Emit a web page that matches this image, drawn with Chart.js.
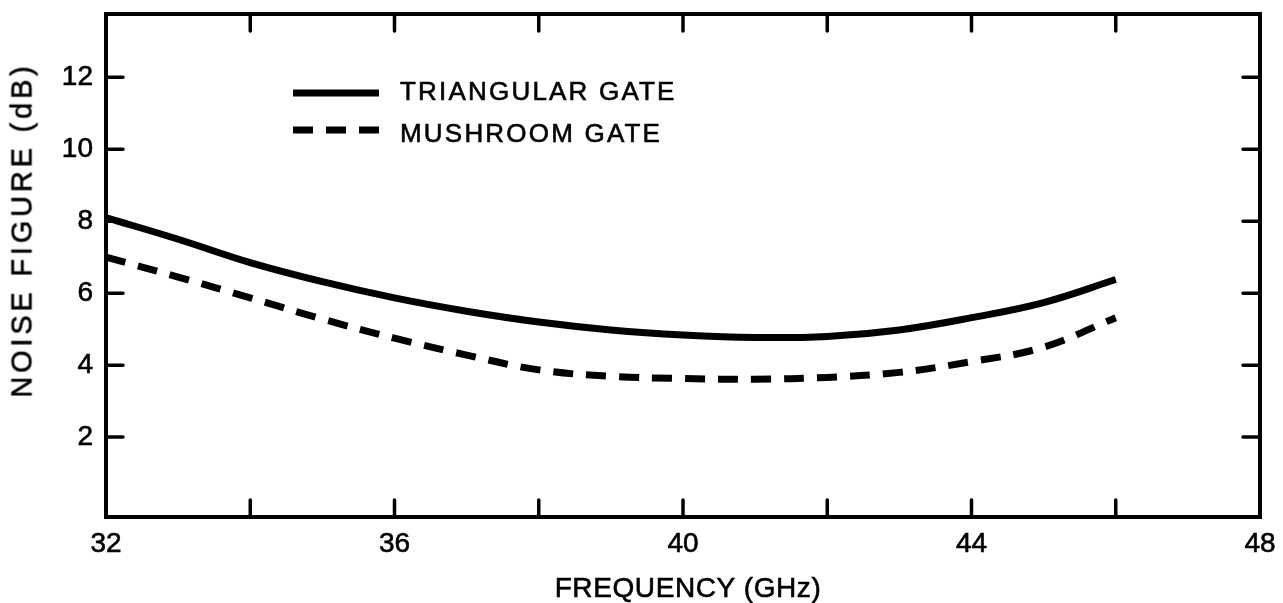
<!DOCTYPE html>
<html><head><meta charset="utf-8">
<script src="https://cdn.jsdelivr.net/npm/chart.js@4.4.0/dist/chart.umd.min.js"></script>
<style>
html,body{margin:0;padding:0;background:#fff;}
#wrap{position:relative;width:1283px;height:603px;overflow:hidden;font-family:"Liberation Sans",Arial,Helvetica,sans-serif;color:#000;}
#c{position:absolute;left:0;top:0;}
.t{position:absolute;white-space:nowrap;line-height:1;-webkit-text-stroke:0.6px #000;}
#ytitle{left:22px;top:230px;font-size:29px;letter-spacing:3.8px;transform:translate(-50%,-50%) rotate(-90deg);}
#xtitle{left:688px;top:588px;font-size:28px;letter-spacing:0.6px;transform:translate(-50%,-50%);}
.lg{position:absolute;font-size:26px;letter-spacing:2.2px;line-height:1;white-space:nowrap;-webkit-text-stroke:0.6px #000;}
.sw{position:absolute;}
</style></head><body>
<div id="wrap">
<canvas id="c" width="1283" height="603"></canvas>
<div id="ytitle" class="t"></div>
<div id="xtitle" class="t"></div>
<svg class="sw" style="left:293px;top:86px" width="86" height="14"><line x1="0" y1="7" x2="86" y2="7" stroke="#000" stroke-width="7"/></svg>
<svg class="sw" style="left:293px;top:123px" width="86" height="14"><line x1="0" y1="7" x2="86" y2="7" stroke="#000" stroke-width="7" stroke-dasharray="20 13"/></svg>
<div id="lg1" class="lg" style="left:400px;top:78px"></div>
<div id="lg2" class="lg" style="left:400px;top:120px"></div>
</div>
<script>
// ---- data ----
const frequency = [32, 33, 34, 35, 36, 37, 38, 39, 40, 41, 42, 43, 44, 45, 46];
const triangularGate = [8.1, 7.5, 6.85, 6.32, 5.87, 5.5, 5.2, 4.98, 4.84, 4.77, 4.8, 4.98, 5.32, 5.74, 6.38];
const mushroomGate = [7.0, 6.45, 5.87, 5.28, 4.75, 4.28, 3.87, 3.69, 3.63, 3.61, 3.66, 3.8, 4.1, 4.5, 5.32];
const seriesNames = ['TRIANGULAR GATE', 'MUSHROOM GATE'];
const xTickValues = [32, 34, 36, 38, 40, 42, 44, 46, 48];
const xTickLabels = ['32', '', '36', '', '40', '', '44', '', '48'];
const yTickValues = [2, 4, 6, 8, 10, 12];
const yTickLabels = ['2', '4', '6', '8', '10', '12'];
const xTitle = 'FREQUENCY (GHz)';
const yTitle = 'NOISE FIGURE (dB)';

document.getElementById('xtitle').textContent = xTitle;
document.getElementById('ytitle').textContent = yTitle;
document.getElementById('lg1').textContent = seriesNames[0];
document.getElementById('lg2').textContent = seriesNames[1];

const FONT = "'Liberation Sans', Arial, Helvetica, sans-serif";
const TICK_LEN = 17;

const frameAndTicks = {
  id: 'frameAndTicks',
  afterDraw(chart) {
    const ctx = chart.ctx;
    const a = chart.chartArea;
    const xs = chart.scales.x, ys = chart.scales.y;
    ctx.save();
    ctx.strokeStyle = '#000';
    ctx.lineWidth = 4;
    ctx.lineJoin = 'miter';
    ctx.strokeRect(a.left, a.top, a.right - a.left, a.bottom - a.top);
    ctx.lineWidth = 3.5;
    ctx.lineCap = 'round';
    ctx.beginPath();
    xTickValues.forEach(v => {
      if (v <= xs.min || v >= xs.max) return;
      const px = xs.getPixelForValue(v);
      ctx.moveTo(px, a.bottom); ctx.lineTo(px, a.bottom - TICK_LEN);
      ctx.moveTo(px, a.top); ctx.lineTo(px, a.top + TICK_LEN);
    });
    yTickValues.forEach(v => {
      const py = ys.getPixelForValue(v);
      ctx.moveTo(a.left, py); ctx.lineTo(a.left + TICK_LEN, py);
      ctx.moveTo(a.right, py); ctx.lineTo(a.right - TICK_LEN, py);
    });
    ctx.stroke();
    ctx.restore();
  }
};

new Chart(document.getElementById('c'), {
  type: 'line',
  data: {
    datasets: [
      {
        label: seriesNames[0],
        data: frequency.map((f, i) => ({ x: f, y: triangularGate[i] })),
        borderColor: '#000', borderWidth: 7, pointRadius: 0, tension: 0.4, fill: false
      },
      {
        label: seriesNames[1],
        data: frequency.map((f, i) => ({ x: f, y: mushroomGate[i] })),
        borderColor: '#000', borderWidth: 7, borderDash: [20, 13], pointRadius: 0, tension: 0.4, fill: false
      }
    ]
  },
  options: {
    responsive: false,
    animation: false,
    layout: { padding: { left: 0, top: 14, right: 23, bottom: 0 } },
    plugins: { legend: { display: false }, tooltip: { enabled: false } },
    scales: {
      x: {
        type: 'linear', min: 32, max: 48,
        afterBuildTicks: s => { s.ticks = xTickValues.map(v => ({ value: v })); },
        afterFit: s => { s.height = 86; s.paddingLeft = 0; s.paddingRight = 0; },
        border: { display: false },
        grid: { display: false, drawTicks: false },
        ticks: {
          autoSkip: false, maxRotation: 0, padding: 10, color: '#000',
          textStrokeColor: '#000', textStrokeWidth: 0.6,
          font: { family: FONT, size: 28 },
          callback: (v, i) => xTickLabels[i]
        }
      },
      y: {
        type: 'linear', min: -0.22, max: 13.76,
        afterBuildTicks: s => { s.ticks = yTickValues.map(v => ({ value: v })); },
        afterFit: s => { s.width = 106; s.paddingTop = 0; s.paddingBottom = 0; },
        border: { display: false },
        grid: { display: false, drawTicks: false },
        ticks: {
          autoSkip: false, padding: 13, color: '#000',
          textStrokeColor: '#000', textStrokeWidth: 0.6,
          font: { family: FONT, size: 28 },
          callback: (v, i) => yTickLabels[i]
        }
      }
    }
  },
  plugins: [frameAndTicks]
});
</script>
</body></html>
